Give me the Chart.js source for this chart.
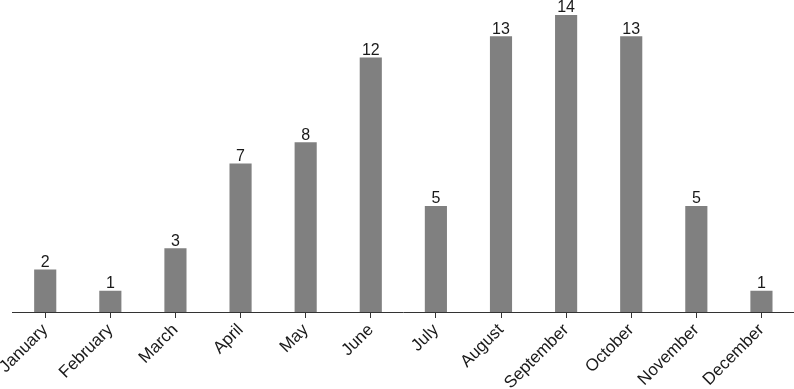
<!DOCTYPE html>
<html>
<head>
<meta charset="utf-8">
<script src="https://cdn.jsdelivr.net/npm/chart.js@4/dist/chart.umd.min.js"></script>
<style>
  html, body { margin: 0; padding: 0; background: #fff; }
  #wrap { width: 794px; height: 389px; }
</style>
</head>
<body>
<div id="wrap"><canvas id="monthChart"></canvas></div>
<script>
// monthly counts
const months = ['January', 'February', 'March', 'April', 'May', 'June',
                'July', 'August', 'September', 'October', 'November', 'December'];
const counts = [2, 1, 3, 7, 8, 12, 5, 13, 14, 13, 5, 1];

const barLabels = {
    id: 'barLabels',
    afterDatasetsDraw(chart) {
        const ctx = chart.ctx;
        const meta = chart.getDatasetMeta(0);
        ctx.save();
        ctx.font = '16px "Liberation Sans", Arial, sans-serif';
        ctx.fillStyle = '#1a1a1a';
        ctx.textAlign = 'center';
        ctx.textBaseline = 'bottom';
        meta.data.forEach((bar, i) => {
            ctx.fillText(String(counts[i]), bar.x, bar.y + 1);
        });
        ctx.restore();
    }
};

new Chart(document.getElementById('monthChart'), {
    type: 'bar',
    data: {
        labels: months,
        datasets: [{ data: counts, backgroundColor: '#808080', barPercentage: 0.34, categoryPercentage: 1 }]
    },
    options: {
        responsive: true,
        maintainAspectRatio: false,
        animation: false,
        layout: { padding: { left: 11, top: 15, right: 0, bottom: 0 } },
        plugins: { legend: { display: false }, tooltip: { enabled: false } },
        scales: {
            y: { display: false, min: 0, max: 14 },
            x: {
                grid: { offset: false, drawOnChartArea: false, drawTicks: true, tickLength: 6, color: '#333', lineWidth: 1 },
                border: { display: true, color: '#333', width: 1 },
                ticks: { color: '#1a1a1a', font: { family: '"Liberation Sans", Arial, sans-serif', size: 17 },
                         minRotation: 45, maxRotation: 45, padding: 2, autoSkip: false },
                afterFit: (scale) => { scale.height = 77; }
            }
        }
    },
    plugins: [barLabels]
});
</script>
</body>
</html>
